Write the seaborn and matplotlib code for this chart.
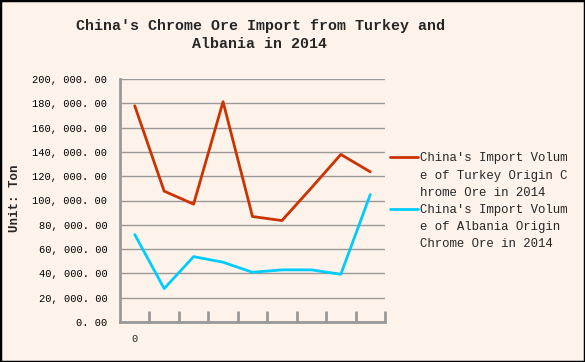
import pandas as pd
import seaborn as sns
import matplotlib.pyplot as plt
from matplotlib.lines import Line2D
from matplotlib.patches import Rectangle
from matplotlib.ticker import FixedLocator, FuncFormatter

# monthly import volumes, tons
months = list(range(9))
turkey = [178000, 107700, 97000, 181300, 86800, 83500, 110400, 137900, 123600]
albania = [72000, 27500, 53800, 49200, 40900, 42900, 42900, 39300, 104900]
series_names = ["Turkey", "Albania"]
legend_lines = [
    ["China's Import Volum", "e of Turkey Origin C", "hrome Ore in 2014"],
    ["China's Import Volum", "e of Albania Origin", "Chrome Ore in 2014"],
]
colors = ["#CC3300", "#00CCFF"]

df = pd.concat([
    pd.DataFrame({"month": months, "tons": turkey, "series": series_names[0]}),
    pd.DataFrame({"month": months, "tons": albania, "series": series_names[1]}),
])

BG = "#FDF3EB"
GRID = "#999999"
MONO = ["Liberation Mono", "DejaVu Sans Mono"]

sns.set_theme(style="white")
plt.rcParams["font.family"] = MONO

fig = plt.figure(figsize=(5.85, 3.62), dpi=100, facecolor=BG)
ax = fig.add_axes([120 / 585, 1 - 322 / 362, 265 / 585, 243 / 362])
ax.set_facecolor(BG)

sns.lineplot(data=df, x="month", y="tons", hue="series", palette=colors,
             linewidth=2, ax=ax, legend=False)

ax.set_ylim(0, 200000)
ax.set_xlim(-0.5, 8.5)
ax.set_yticks(range(0, 200001, 20000))
ax.yaxis.set_major_formatter(
    FuncFormatter(lambda v, _: f"{v:,.2f}".replace(",", ", ").replace(".", ". ")))
ax.tick_params(axis="y", length=0, pad=9, labelsize=7.5, colors="black")
ax.yaxis.grid(True, color=GRID, linewidth=1)
ax.set_axisbelow(True)

ax.xaxis.set_major_locator(FixedLocator([0]))
ax.set_xticklabels(["0"])
ax.xaxis.set_minor_locator(FixedLocator([i + 0.5 for i in range(9)]))
ax.tick_params(axis="x", which="major", length=0, pad=9, labelsize=7.5)
ax.tick_params(axis="x", which="minor", bottom=True, direction="in",
               length=8, width=2, color=GRID)

for side in ["top", "right"]:
    ax.spines[side].set_visible(False)
for side in ["left", "bottom"]:
    ax.spines[side].set_color(GRID)
    ax.spines[side].set_linewidth(2)

ax.set_xlabel("")
ax.set_ylabel("")
fig.text(15 / 585, 1 - 198 / 362, "Unit: Ton", rotation=90, ha="center",
         va="center", fontsize=9, fontweight="bold")

fig.text(260 / 585, 1 - 35 / 362,
         "China's Chrome Ore Import from Turkey and\nAlbania in 2014",
         ha="center", va="center", fontsize=10.8, fontweight="bold",
         linespacing=1.45)

# legend: handle sits on the first line of each wrapped label
handles, texts = [], []
for color, lines in zip(colors, legend_lines):
    for i, line in enumerate(lines):
        handles.append(Line2D([], [], color=color if i == 0 else "none", linewidth=2))
        texts.append(line)
ax.legend(handles, texts, loc="upper left", bbox_to_anchor=(1.0, 0.718),
          frameon=False, fontsize=8.9, handlelength=2.3, handletextpad=0.1,
          borderaxespad=0, labelspacing=0.42)

fig.patches.append(Rectangle((0, 0), 1, 1, transform=fig.transFigure,
                             fill=False, edgecolor="black", linewidth=2.5))

fig.savefig("out.png", dpi=100, facecolor=BG)
